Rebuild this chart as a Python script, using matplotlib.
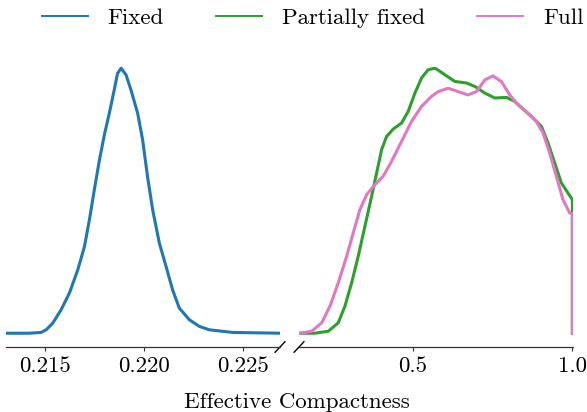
import numpy as np
import matplotlib.pyplot as plt

plt.rcParams['font.family'] = ['cmr10', 'DejaVu Serif']
plt.rcParams['mathtext.fontset'] = 'cm'
plt.rcParams['axes.formatter.use_mathtext'] = True

# Fixed: density (scaled so that peak = 1) against effective compactness
fixed_x = [0.21301, 0.21419, 0.21478, 0.21504, 0.21537, 0.21580, 0.21622,
           0.21664, 0.21698, 0.21723, 0.21748, 0.21774, 0.21799, 0.21824,
           0.21849, 0.21866, 0.21884, 0.21909, 0.21934, 0.21968, 0.21993,
           0.22018, 0.22044, 0.22078, 0.22112, 0.22145, 0.22179, 0.22230,
           0.22280, 0.22331, 0.22449, 0.22695]
fixed_y = [0.0, 0.0, 0.003, 0.013, 0.038, 0.089, 0.152, 0.239, 0.327, 0.428,
           0.541, 0.654, 0.749, 0.830, 0.918, 0.981, 1.0, 0.975, 0.918, 0.830,
           0.730, 0.591, 0.466, 0.340, 0.252, 0.164, 0.095, 0.051, 0.026,
           0.013, 0.003, 0.0]

# Partially fixed
partial_x = [0.1478, 0.1947, 0.2363, 0.2675, 0.2884, 0.3094, 0.3300, 0.3509,
             0.3719, 0.3875, 0.4031, 0.4188, 0.4394, 0.4656, 0.4863, 0.5072,
             0.5281, 0.5488, 0.5697, 0.5750, 0.6009, 0.6322, 0.6688, 0.6947,
             0.7259, 0.7572, 0.7938, 0.8197, 0.8456, 0.8769, 0.9031, 0.9238,
             0.9447, 0.9656, 0.9969, 1.0, 1.0]
partial_y = [0.0, 0.0, 0.0075, 0.0392, 0.1021, 0.1902, 0.2905, 0.4036,
             0.5166, 0.6044, 0.6925, 0.7427, 0.7705, 0.7931, 0.8372, 0.9058,
             0.9631, 0.9944, 1.0, 0.9970, 0.9755, 0.9503, 0.9443, 0.9315,
             0.9066, 0.8877, 0.8900, 0.8749, 0.8463, 0.8123, 0.7807, 0.7179,
             0.6426, 0.5672, 0.5098, 0.505, 0.0]

# Full
full_x = [0.1478, 0.1844, 0.2156, 0.2416, 0.2675, 0.2938, 0.3144, 0.3353,
          0.3563, 0.3822, 0.4081, 0.4344, 0.4656, 0.4969, 0.5281, 0.5594,
          0.5800, 0.6113, 0.6425, 0.6738, 0.7000, 0.7259, 0.7519, 0.7781,
          0.8041, 0.8300, 0.8613, 0.8875, 0.9081, 0.9291, 0.9500, 0.9706,
          0.9916, 1.0, 1.0]
full_y = [0.0, 0.0075, 0.0392, 0.1021, 0.1902, 0.2905, 0.3787, 0.4665,
          0.5230, 0.5607, 0.5923, 0.6488, 0.7242, 0.7996, 0.8561, 0.8938,
          0.9118, 0.9246, 0.9118, 0.8994, 0.9118, 0.9559, 0.9710, 0.9495,
          0.8994, 0.8617, 0.8304, 0.7988, 0.7561, 0.6797, 0.5918, 0.5041,
          0.4537, 0.4503, 0.0]

left_ticks = [0.215, 0.220, 0.225]
left_labels = ['0.215', '0.220', '0.225']
right_ticks = [0.5, 1.0]
right_labels = ['0.5', '1.0']

fig = plt.figure(figsize=(5.87, 4.12), dpi=100)
ax1 = fig.add_axes([0.01022, 0.15777, 0.46678, 0.70874])
ax2 = fig.add_axes([0.50937, 0.15777, 0.46678, 0.70874])

l1, = ax1.plot(fixed_x, fixed_y, color='#1f77b4', lw=2.2, label='Fixed')
l2, = ax2.plot(partial_x, partial_y, color='#2ca02c', lw=2.2,
               label='Partially fixed')
l3, = ax2.plot(full_x, full_y, color='#e377c2', lw=2.2, label='Full')

ax1.set_xlim(0.2130, 0.2269)
ax2.set_xlim(0.1447, 1.002)
for ax in (ax1, ax2):
    ax.set_ylim(-0.052, 1.05)
    ax.set_yticks([])
    for s in ('left', 'right', 'top'):
        ax.spines[s].set_visible(False)
    ax.spines['bottom'].set_color('0.2')
    ax.spines['bottom'].set_linewidth(0.9)
    ax.tick_params(axis='x', length=3, width=0.8, color='0.2', pad=3.5,
                   labelsize=16.5)

ax1.set_xticks(left_ticks, left_labels)
ax2.set_xticks(right_ticks, right_labels)

# break marks
d = 0.018
kw = dict(color='k', lw=1.0, clip_on=False)
ax1.plot([1 - d, 1 + d], [-d, d], transform=ax1.transAxes, **kw)
ax2.plot([-d, d], [-d, d], transform=ax2.transAxes, **kw)

fig.text(0.5055, 0.009, 'Effective Compactness', ha='center',
         va='baseline', fontsize=16.5)

leg = fig.legend(handles=[l1, l2, l3], loc='center', ncol=3, frameon=False,
                 bbox_to_anchor=(0.5327, 0.9556), fontsize=16.5,
                 handlelength=2.0, handletextpad=0.85, columnspacing=2.3)
for line in leg.get_lines():
    line.set_linewidth(1.4)

fig.savefig('out.png', dpi=100)
